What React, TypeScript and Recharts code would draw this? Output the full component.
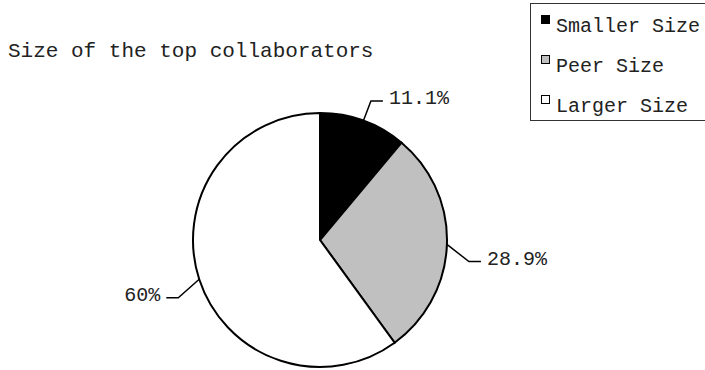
import React from 'react';
import { PieChart, Pie, Cell, Legend } from 'recharts';

const categories = ['Smaller Size', 'Peer Size', 'Larger Size'];
const shares = [11.1, 28.9, 60];
const shareLabels = ['11.1%', '28.9%', '60%'];
const COLORS = ['#000000', '#c0c0c0', '#ffffff'];

const data = categories.map((name, i) => ({ name, value: shares[i], label: shareLabels[i] }));

const RADIAN = Math.PI / 180;
const MONO = '"Liberation Mono", "DejaVu Sans Mono", monospace';

const renderLabel = (props: any) => {
  const { cx, cy, midAngle, outerRadius, index } = props;
  const cos = Math.cos(-midAngle * RADIAN);
  const sin = Math.sin(-midAngle * RADIAN);
  const x0 = cx + outerRadius * cos;
  const y0 = cy + outerRadius * sin;
  const x1 = cx + (outerRadius + 22) * cos;
  // excel-ish leader: pulls the side labels a bit lower
  const y1 = cy + (outerRadius + 22) * sin + 17 * (1 - Math.abs(sin));
  const right = cos >= 0;
  const x2 = x1 + (right ? 12 : -12);
  return (
    <g>
      <polyline points={`${x0},${y0} ${x1},${y1} ${x2},${y1}`} fill="none" stroke="#000" strokeWidth={1.5} />
      <text
        x={x2 + (right ? 6 : -6)}
        y={y1 + 3}
        textAnchor={right ? 'start' : 'end'}
        fontFamily={MONO}
        fontSize={20}
        fill="#222"
      >
        {data[index].label}
      </text>
    </g>
  );
};

const renderLegend = () => (
  <div
    style={{
      border: '1.5px solid #333',
      borderRight: 'none',
      background: '#fff',
      paddingTop: 3,
      width: 190,
      height: 118,
      boxSizing: 'border-box',
      fontFamily: MONO,
      fontSize: 20,
      color: '#222',
    }}
  >
    {data.map((entry, i) => (
      <div key={`item-${i}`} style={{ position: 'relative', height: 40, lineHeight: '40px' }}>
        <span
          style={{
            position: 'absolute',
            left: 10,
            top: 8,
            width: 9,
            height: 9,
            boxSizing: 'border-box',
            border: '1.5px solid #000',
            background: COLORS[i],
          }}
        />
        <span style={{ position: 'absolute', left: 25, top: 0, whiteSpace: 'nowrap' }}>{entry.name}</span>
      </div>
    ))}
  </div>
);

export default function App() {
  return (
    <div style={{ position: 'absolute', left: 0, top: 0, width: 705, height: 370, background: '#fff', overflow: 'hidden' }}>
      <PieChart width={705} height={370} margin={{ top: 0, right: 0, bottom: 0, left: 0 }}>
        <text x={8} y={57} fontFamily={MONO} fontSize={21} fill="#222">
          Size of the top collaborators
        </text>
        <Pie
          data={data}
          dataKey="value"
          nameKey="name"
          cx={320}
          cy={240}
          outerRadius={127}
          startAngle={90}
          endAngle={-270}
          stroke="#000"
          strokeWidth={2}
          label={renderLabel}
          labelLine={false}
          isAnimationActive={false}
        >
          {data.map((entry, index) => (
            <Cell key={`cell-${index}`} fill={COLORS[index % COLORS.length]} />
          ))}
        </Pie>
        <Legend
          layout="vertical"
          align="right"
          verticalAlign="top"
          content={renderLegend}
          wrapperStyle={{ left: 530, top: 3, width: 190, right: 'auto' }}
        />
      </PieChart>
    </div>
  );
}
